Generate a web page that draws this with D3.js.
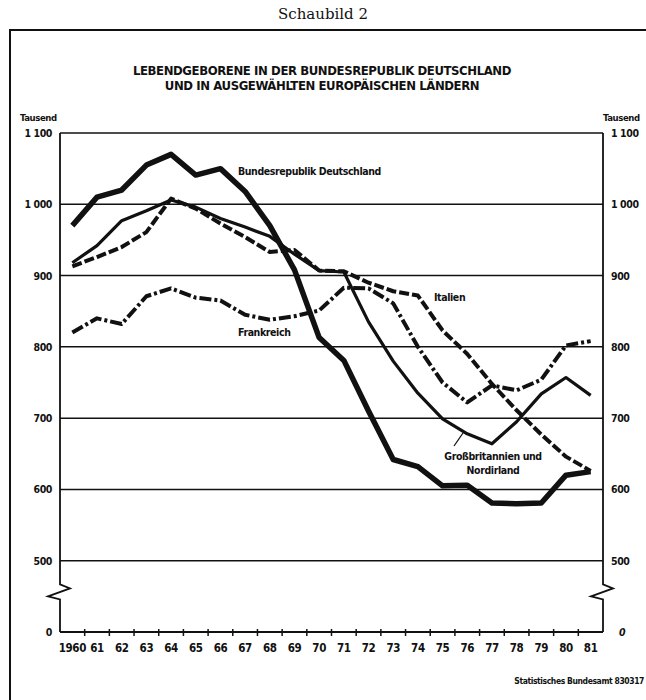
<!DOCTYPE html>
<html>
<head>
<meta charset="utf-8">
<script src="https://cdn.jsdelivr.net/npm/d3@7"></script>
<style>
  body { margin: 0; background: #fff; }
  svg { display: block; }
  .cond { font-family: "Liberation Sans Narrow", "DejaVu Sans Condensed", "DejaVu Sans", sans-serif; font-weight: bold; fill: #111; letter-spacing: -0.4px; }
</style>
</head>
<body>
<svg id="chart" width="646" height="700"></svg>
<script>
// Years on the x axis
var years = [1960, 1961, 1962, 1963, 1964, 1965, 1966, 1967, 1968, 1969, 1970,
             1971, 1972, 1973, 1974, 1975, 1976, 1977, 1978, 1979, 1980, 1981];
var yearLabels = ["1960", "61", "62", "63", "64", "65", "66", "67", "68", "69", "70",
                  "71", "72", "73", "74", "75", "76", "77", "78", "79", "80", "81"];

// Live births, thousand
var deutschland = [970, 1010, 1020, 1055, 1070, 1041, 1050, 1018, 970, 908, 813,
                   781, 710, 642, 632, 605, 606, 581, 580, 581, 620, 625];
var grossbritannien = [918, 942, 977, 991, 1006, 996, 980, 968, 955, 930, 907,
                       905, 835, 780, 735, 699, 678, 664, 695, 734, 757, 732];
var italien = [913, 926, 940, 961, 1008, 994, 973, 954, 933, 936, 907,
               906, 890, 878, 872, 823, 790, 748, 711, 677, 646, 626];
var frankreich = [820, 840, 832, 871, 882, 869, 865, 845, 838, 843, 851,
                  883, 882, 861, 800, 750, 722, 746, 739, 754, 802, 808];

// y ticks (400 stands for the broken "0")
var yTicks = [400, 500, 600, 700, 800, 900, 1000, 1100];
var yTickLabels = ["0", "500", "600", "700", "800", "900", "1 000", "1 100"];

var svg = d3.select("#chart");

var plotLeft = 60, plotRight = 603, plotTop = 133, plotBottom = 632;

var x = d3.scaleBand().domain(years).range([plotLeft, plotRight]);
var y = d3.scaleLinear().domain([400, 1100]).range([plotBottom, plotTop]);

function xc(d, i) { return x(years[i]) + x.bandwidth() / 2; }

// Frame round the whole figure
svg.append("path")
    .attr("d", "M10,700 V30 H646")
    .attr("fill", "none")
    .attr("stroke", "#111")
    .attr("stroke-width", 2);

// Header
svg.append("text")
    .attr("x", 323).attr("y", 19)
    .attr("text-anchor", "middle")
    .style("font-family", "'DejaVu Serif', 'Liberation Serif', serif")
    .style("font-size", "15px")
    .style("fill", "#111")
    .text("Schaubild 2");

svg.append("text").attr("class", "cond")
    .attr("x", 322).attr("y", 75)
    .attr("text-anchor", "middle")
    .style("font-size", "13px")
    .text("LEBENDGEBORENE IN DER BUNDESREPUBLIK DEUTSCHLAND");

svg.append("text").attr("class", "cond")
    .attr("x", 322).attr("y", 90)
    .attr("text-anchor", "middle")
    .style("font-size", "13px")
    .text("UND IN AUSGEWÄHLTEN EUROPÄISCHEN LÄNDERN");

svg.append("text").attr("class", "cond")
    .attr("x", 20).attr("y", 121)
    .style("font-size", "9.5px")
    .text("Tausend");

svg.append("text").attr("class", "cond")
    .attr("x", 603).attr("y", 121)
    .style("font-size", "9.5px")
    .text("Tausend");

// Grid lines (500 .. 1100)
svg.append("g").selectAll("line")
    .data(yTicks.slice(1))
  .enter().append("line")
    .attr("x1", plotLeft).attr("x2", plotRight)
    .attr("y1", d => y(d)).attr("y2", d => y(d))
    .attr("stroke", "#111")
    .attr("stroke-width", 1.5);

// Y axes with break marks
var yBreak = y(450);
function axisPath(ax) {
  return "M" + ax + "," + plotTop +
         " V" + (yBreak - 12) +
         " L" + (ax + 10) + "," + (yBreak - 8) +
         " L" + (ax - 12) + "," + yBreak +
         " L" + ax + "," + (yBreak + 3) +
         " V" + plotBottom;
}
svg.append("path").attr("d", axisPath(plotLeft))
    .attr("fill", "none").attr("stroke", "#111").attr("stroke-width", 1.8);
svg.append("path").attr("d", axisPath(plotRight))
    .attr("fill", "none").attr("stroke", "#111").attr("stroke-width", 1.8);

// Y labels
svg.append("g").selectAll("text")
    .data(yTicks)
  .enter().append("text").attr("class", "cond")
    .attr("x", 52).attr("y", d => y(d) + 4)
    .attr("text-anchor", "end")
    .style("font-size", "10.5px")
    .text((d, i) => yTickLabels[i]);

svg.append("g").selectAll("text")
    .data(yTicks)
  .enter().append("text").attr("class", "cond")
    .attr("x", (d, i) => i == 0 ? 619 : 611).attr("y", d => y(d) + 4)
    .style("font-size", "10.5px")
    .style("font-style", (d, i) => i == 0 ? "italic" : "normal")
    .text((d, i) => yTickLabels[i]);

// X axis
svg.append("line")
    .attr("x1", plotLeft).attr("x2", plotRight)
    .attr("y1", plotBottom).attr("y2", plotBottom)
    .attr("stroke", "#111").attr("stroke-width", 2);

var xAxis = d3.axisBottom(x)
    .tickSize(0)
    .tickFormat((d, i) => yearLabels[i]);

var gx = svg.append("g")
    .attr("transform", "translate(0," + plotBottom + ")")
    .call(xAxis);
gx.select(".domain").remove();
gx.selectAll("text")
    .attr("class", "cond")
    .attr("dy", 0).attr("y", 20)
    .attr("fill", "#111")
    .style("font-size", "11.5px")
    .style("font-family", "'Liberation Sans Narrow', 'DejaVu Sans Condensed', 'DejaVu Sans', sans-serif");

// Tick marks between the years
svg.append("g").selectAll("line")
    .data(years.slice(1))
  .enter().append("line")
    .attr("x1", d => x(d)).attr("x2", d => x(d))
    .attr("y1", plotBottom - 3).attr("y2", plotBottom + 4)
    .attr("stroke", "#111").attr("stroke-width", 1.5);

// Lines
var line = d3.line()
    .x(xc)
    .y(d => y(d));

function drawLine(data, width, dash) {
  svg.append("path")
      .datum(data)
      .attr("d", line)
      .attr("fill", "none")
      .attr("stroke", "#111")
      .attr("stroke-width", width)
      .attr("stroke-linejoin", "round")
      .attr("stroke-dasharray", dash);
}

drawLine(frankreich, 4, "12,3,3,3");
drawLine(italien, 4, "10,3");
drawLine(grossbritannien, 3.2, null);
drawLine(deutschland, 5.5, null);

// Series labels
function label(txt, lx, ly, anchor) {
  svg.append("text").attr("class", "cond")
      .attr("x", lx).attr("y", ly)
      .attr("text-anchor", anchor || "start")
      .style("font-size", "10.5px")
      .text(txt);
}
label("Bundesrepublik Deutschland", 238, 175);
label("Frankreich", 238, 336);
label("Italien", 434, 301);
label("Großbritannien und", 493, 460, "middle");
label("Nordirland", 493, 474, "middle");

svg.append("line")
    .attr("x1", 454).attr("y1", 446)
    .attr("x2", 463).attr("y2", 433)
    .attr("stroke", "#111").attr("stroke-width", 1.3);

// Source
svg.append("text").attr("class", "cond")
    .attr("x", 644).attr("y", 684)
    .attr("text-anchor", "end")
    .style("font-size", "8.5px")
    .text("Statistisches Bundesamt 830317");
</script>
</body>
</html>
